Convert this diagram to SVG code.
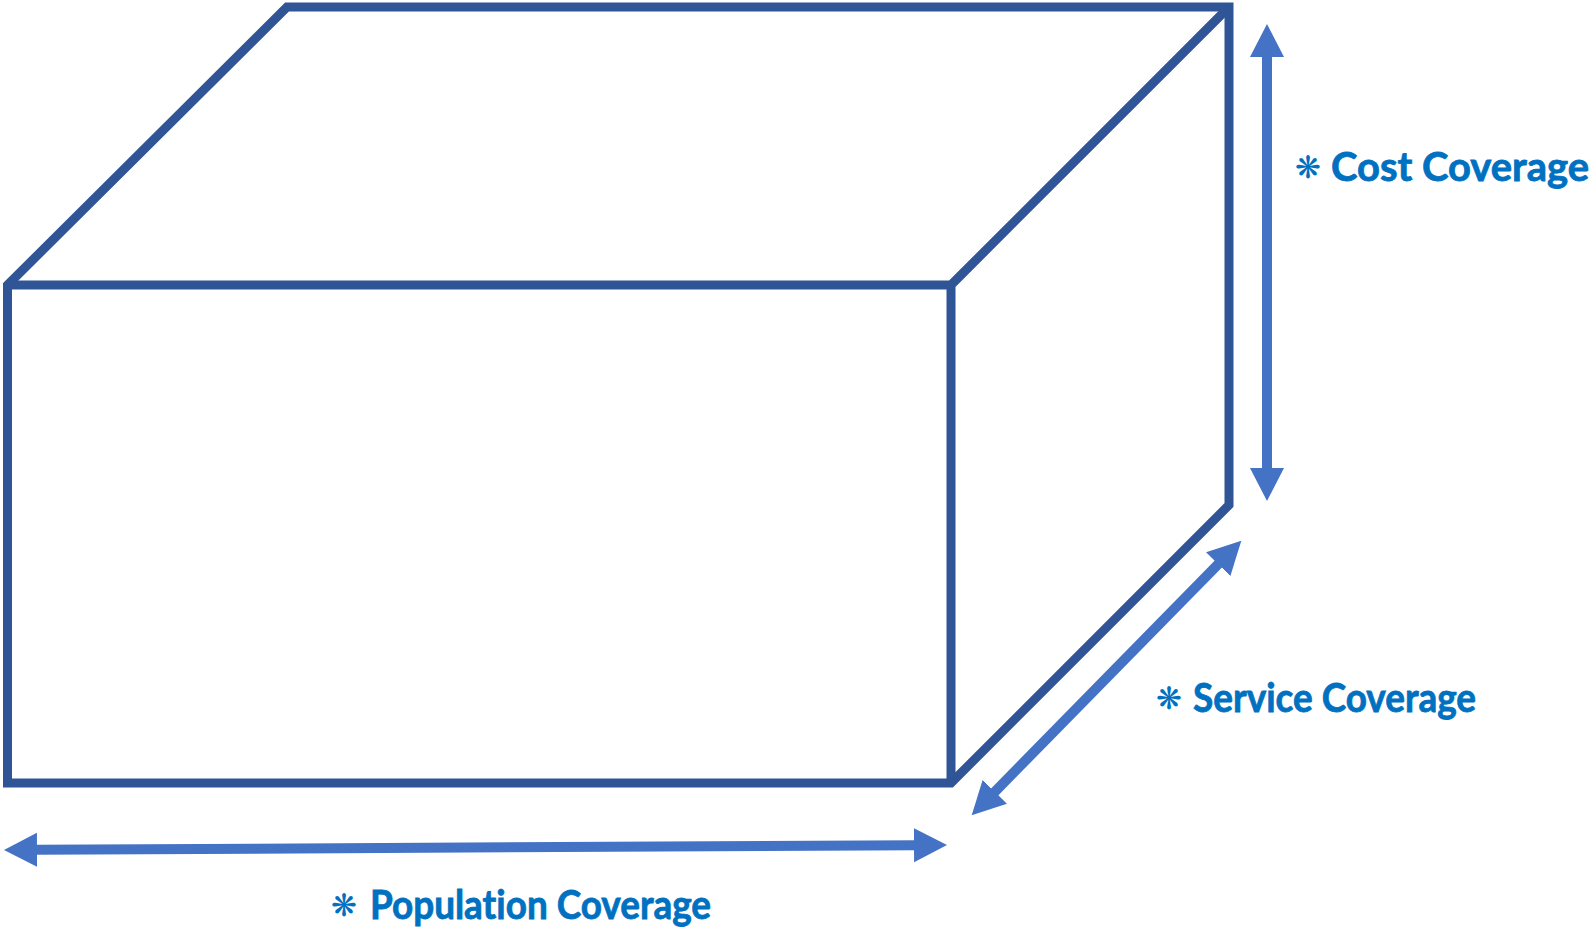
<svg xmlns="http://www.w3.org/2000/svg" width="1594" height="930" viewBox="0 0 1594 930">
<style>
.box{fill:none;stroke:#2F5597;stroke-width:9;stroke-linejoin:miter}
.arr{stroke:#4472C4;stroke-width:10;fill:none}
.lbl{font-family:Lato,"Open Sans",sans-serif;font-weight:bold;font-size:40px;fill:#0070C0;stroke:#0070C0;stroke-width:0.8px;font-variant-ligatures:none}
.ast{font-family:"DejaVu Sans",sans-serif;font-weight:bold;font-size:31px;fill:#0070C0}
</style>
<defs>
<marker id="ah" markerUnits="userSpaceOnUse" markerWidth="34" markerHeight="36" viewBox="0 0 34 36" refX="2" refY="18" orient="auto-start-reverse">
<path d="M0,1 L33,18 L0,35 z" fill="#4472C4"/>
</marker>
</defs>
<rect width="1594" height="930" fill="#ffffff"/>
<g id="box">
<path class="box" d="M7.5,285 L287,7 L1229,7 L1229,505 L951,783 L7.5,783 Z"/>
<path class="box" d="M7.5,285 L951,285 L951,783 M951,285 L1229,7"/>
</g>
<g id="connectors">
<line class="arr" x1="35" y1="849.8" x2="916" y2="845.2" marker-start="url(#ah)" marker-end="url(#ah)"/>
<line class="arr" x1="1267" y1="55" x2="1267" y2="470" marker-start="url(#ah)" marker-end="url(#ah)"/>
<line class="arr" x1="993.4" y1="793.2" x2="1219.6" y2="562.8" marker-start="url(#ah)" marker-end="url(#ah)"/>
</g>
<g id="cost-label">
<text class="ast" x="1295" y="178">❋</text>
<text class="lbl" x="1331" y="181" textLength="258" lengthAdjust="spacingAndGlyphs">Cost Coverage</text>
</g>
<g id="service-label">
<text class="ast" x="1156" y="709">❋</text>
<text class="lbl" x="1193" y="712" textLength="283" lengthAdjust="spacingAndGlyphs">Service Coverage</text>
</g>
<g id="population-label">
<text class="ast" x="331" y="916">❋</text>
<text class="lbl" x="370" y="919" textLength="341" lengthAdjust="spacingAndGlyphs">Population Coverage</text>
</g>
</svg>
